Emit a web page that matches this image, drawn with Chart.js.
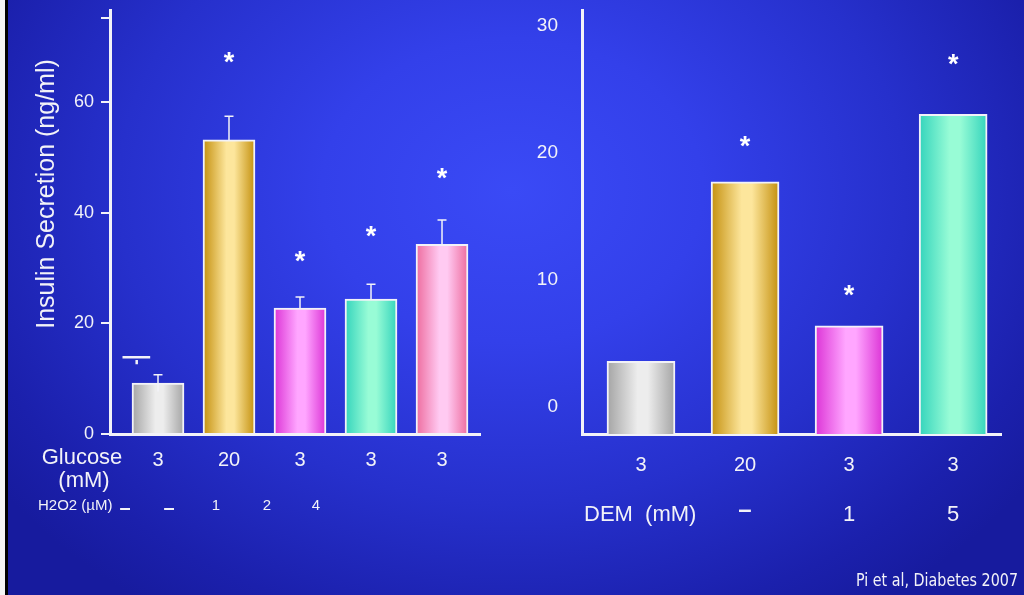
<!DOCTYPE html>
<html>
<head>
<meta charset="utf-8">
<script src="https://cdn.jsdelivr.net/npm/chart.js@4"></script>
<style>
  html, body { margin: 0; padding: 0; }
  body {
    width: 1024px; height: 595px; overflow: hidden; position: relative;
    background: radial-gradient(ellipse 62% 85% at 50% 32%, #3a4af6 0%, #3340ea 30%, #2630cc 62%, #1b20ac 88%, #171b9e 100%);
  }
  #edge { position: absolute; left: 0; top: 0; width: 5px; height: 595px; background: #f4f4f4; border-right: 3px solid #000; }
  canvas { position: absolute; top: 0; }
  #left { left: 0; }
  #right { left: 512px; }
</style>
</head>
<body>
<div id="edge"></div>
<canvas id="left" width="512" height="595"></canvas>
<canvas id="right" width="512" height="595"></canvas>
<script>
// left panel: H2O2
const glucoseLabels = ['3', '20', '3', '3', '3'];
const insulinH2O2 = [9.2, 53.2, 22.8, 24.4, 34.3];
const insulinH2O2Err = [1.5, 4.3, 2.0, 2.7, 4.4];
const h2o2Stars = [null, 68.4, 32.5, 36.9, 47.4];
const h2o2Labels = ['–', '–', '1', '2', '4'];
const leftTicks = [0, 20, 40, 60, 75.3];

// right panel: DEM
const demGlucose = ['3', '20', '3', '3'];
const demLabels = ['–', '1', '5'];
const insulinDEM = [3.6, 17.7, 6.4, 23.0];
const demStars = [null, 21.05, 9.35, 27.5];
const rightTicks = [0, 10, 20, 30];

// bar fills, edge / middle
const barColors = [
  ['#a4a4a4', '#ededed'],
  ['#c4900e', '#fde69c'],
  ['#dc34d6', '#ffa6ff'],
  ['#34d4bc', '#98fcd6'],
  ['#ee6c9e', '#ffcaf2']
];

const WHITE = '#f2f2f8';
const FONT = "'Liberation Sans', Arial, sans-serif";

function barFill(width) {
  return function (ctx) {
    const chart = ctx.chart;
    const c = barColors[ctx.dataIndex];
    if (!chart.chartArea) return c[0];
    const x = chart.scales.x.getPixelForValue(ctx.dataIndex);
    const g = chart.ctx.createLinearGradient(x - width / 2, 0, x + width / 2, 0);
    g.addColorStop(0, c[0]);
    g.addColorStop(0.45, c[1]);
    g.addColorStop(0.6, c[1]);
    g.addColorStop(1, c[0]);
    return g;
  };
}

function drawStars(chart, stars) {
  const ctx = chart.ctx;
  const xs = chart.scales.x, ys = chart.scales.y;
  ctx.save();
  ctx.fillStyle = '#ffffff';
  ctx.font = 'bold 27px ' + FONT;
  ctx.textAlign = 'center';
  ctx.textBaseline = 'alphabetic';
  stars.forEach((v, i) => {
    if (v == null) return;
    ctx.fillText('*', xs.getPixelForValue(i), ys.getPixelForValue(v) + 0.57 * 27);
  });
  ctx.restore();
}

const leftExtras = {
  id: 'leftExtras',
  afterDatasetsDraw(chart) {
    const ctx = chart.ctx;
    const xs = chart.scales.x, ys = chart.scales.y;
    ctx.save();
    // error bars
    ctx.strokeStyle = WHITE;
    ctx.lineWidth = 1.5;
    insulinH2O2.forEach((v, i) => {
      const x = xs.getPixelForValue(i);
      const yTop = ys.getPixelForValue(v + insulinH2O2Err[i]);
      const yFrom = i === 0 ? ys.getPixelForValue(v - insulinH2O2Err[i]) : ys.getPixelForValue(v);
      ctx.beginPath();
      ctx.moveTo(x, yFrom); ctx.lineTo(x, yTop);
      ctx.moveTo(x - 4.5, yTop); ctx.lineTo(x + 4.5, yTop);
      ctx.stroke();
    });
    // stray mark above the control bar
    ctx.lineWidth = 2.5;
    ctx.beginPath();
    ctx.moveTo(xs.getPixelForValue(-0.5), ys.getPixelForValue(13.9));
    ctx.lineTo(xs.getPixelForValue(-0.11), ys.getPixelForValue(13.9));
    ctx.moveTo(xs.getPixelForValue(-0.3), ys.getPixelForValue(13.4));
    ctx.lineTo(xs.getPixelForValue(-0.3), ys.getPixelForValue(12.6));
    ctx.stroke();
    ctx.restore();

    drawStars(chart, h2o2Stars);

    ctx.save();
    ctx.fillStyle = WHITE;
    // y title
    ctx.translate(47, 194);
    ctx.rotate(-Math.PI / 2);
    ctx.font = '25px ' + FONT;
    ctx.textAlign = 'center';
    ctx.textBaseline = 'middle';
    ctx.fillText('Insulin Secretion (ng/ml)', 0, 0, 280);
    ctx.restore();

    ctx.save();
    ctx.fillStyle = WHITE;
    ctx.textAlign = 'center';
    ctx.textBaseline = 'middle';
    ctx.font = '22px ' + FONT;
    ctx.fillText('Glucose', 82, 458);
    ctx.fillText('(mM)', 84, 481);
    ctx.font = '15px ' + FONT;
    ctx.textAlign = 'left';
    ctx.fillText('H2O2 (µM)', 38, 506, 78);
    ctx.textAlign = 'center';
    const rowX = [125, 169, 216, 267, 316];
    h2o2Labels.forEach((t, i) => {
      ctx.font = (t === '–' ? 'bold 20px ' : '15px ') + FONT;
      ctx.fillText(t, rowX[i], t === '–' ? 508 : 506);
    });
    ctx.restore();
  }
};

const rightExtras = {
  id: 'rightExtras',
  afterDatasetsDraw(chart) {
    const ctx = chart.ctx;
    const xs = chart.scales.x;
    drawStars(chart, demStars);
    ctx.save();
    ctx.fillStyle = WHITE;
    ctx.textBaseline = 'middle';
    ctx.font = '22px ' + FONT;
    ctx.textAlign = 'left';
    ctx.fillText('DEM  (mM)', 72, 515, 118);
    ctx.textAlign = 'center';
    demLabels.forEach((t, i) => {
      ctx.font = (t === '–' ? 'bold 24px ' : '22px ') + FONT;
      ctx.fillText(t, xs.getPixelForValue(i + 1), t === '–' ? 510 : 515);
    });
    ctx.font = '17px "DejaVu Sans", sans-serif';
    ctx.textAlign = 'right';
    ctx.fillText('Pi et al, Diabetes 2007', 506, 582, 162);
    ctx.restore();
  }
};

function makeChart(id, opts) {
  return new Chart(document.getElementById(id), {
    type: 'bar',
    data: {
      datasets: [{
        data: opts.values.map((v, i) => ({ x: i, y: v })),
        backgroundColor: barFill(opts.barWidth),
        borderColor: WHITE,
        borderWidth: 2,
        borderSkipped: 'bottom',
        barThickness: opts.barWidth,
        base: opts.yMin
      }]
    },
    options: {
      responsive: false,
      animation: false,
      layout: { padding: opts.padding },
      plugins: { legend: { display: false }, tooltip: { enabled: false } },
      scales: {
        x: {
          type: 'linear',
          offset: false,
          min: opts.xMin, max: opts.xMax,
          grid: { display: false },
          border: { display: true, color: WHITE, width: 3 },
          afterBuildTicks: s => { s.ticks = opts.xLabels.map((_, i) => ({ value: i })); },
          afterFit: s => { s.height = 161; s.paddingLeft = 0; s.paddingRight = 0; },
          ticks: {
            color: WHITE, padding: opts.xPad,
            font: { family: FONT, size: 20 },
            callback: v => opts.xLabels[v]
          }
        },
        y: {
          min: opts.yMin, max: opts.yMax,
          grid: { display: opts.tickMarks, drawOnChartArea: false, color: WHITE, lineWidth: 2, tickLength: 9 },
          border: { display: true, color: WHITE, width: 3 },
          afterBuildTicks: s => { s.ticks = opts.yTicks.map(v => ({ value: v })); },
          afterFit: s => { s.width = opts.yWidth; s.paddingTop = 0; s.paddingBottom = 0; },
          ticks: {
            color: WHITE, padding: opts.yPad,
            font: { family: FONT, size: opts.yFont },
            callback: v => (Number.isInteger(v) ? String(v) : '')
          }
        }
      }
    },
    plugins: [opts.extras]
  });
}

makeChart('left', {
  values: insulinH2O2, xLabels: glucoseLabels, barWidth: 52,
  xMin: -0.676, xMax: 4.535, yMin: 0, yMax: 76.7, yTicks: leftTicks,
  padding: { top: 10, right: 32, left: 0, bottom: 0 },
  xPad: 6, yPad: 7, yWidth: 110, yFont: 18, tickMarks: true, extras: leftExtras
});

makeChart('right', {
  values: insulinDEM, xLabels: demGlucose, barWidth: 68,
  xMin: -0.567, xMax: 3.46, yMin: -2.1, yMax: 31.2, yTicks: rightTicks,
  padding: { top: 10, right: 23, left: 0, bottom: 0 },
  xPad: 11, yPad: 15, yWidth: 70, yFont: 19, tickMarks: false, extras: rightExtras
});
</script>
</body>
</html>
